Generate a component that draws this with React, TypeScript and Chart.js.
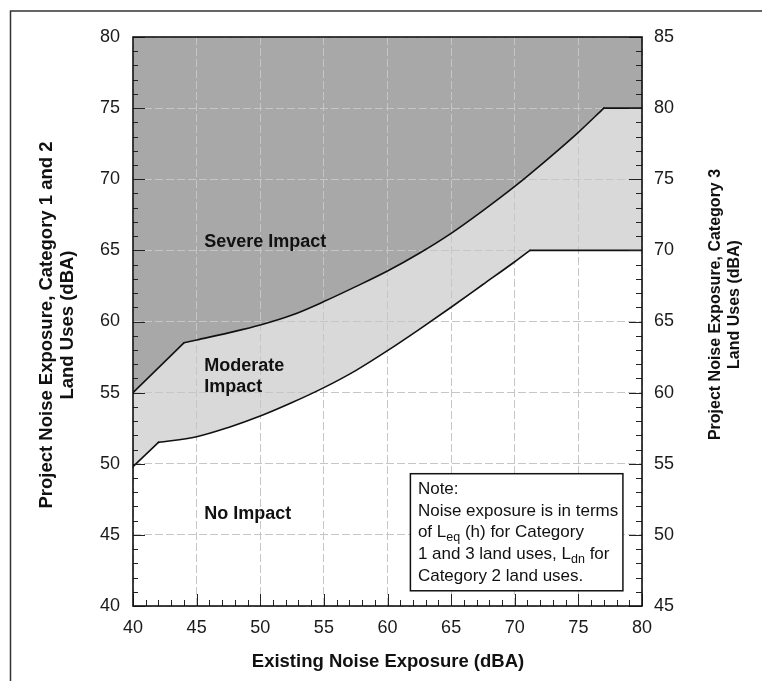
import React, { useEffect, useRef } from "react";
import { Chart, registerables } from "chart.js";

Chart.register(...registerables);

// ---- data ----
const severeX = [40, 44, 45, 47.5, 50, 52.5, 55, 57.5, 60, 62.5, 65, 67.5, 70, 72.5, 75, 77, 80];
const severeY = [55, 58.5, 58.7, 59.2, 59.75, 60.45, 61.4, 62.45, 63.55, 64.8, 66.2, 67.8, 69.5, 71.35, 73.3, 75, 75];
const moderateX = [40, 42, 45, 47.5, 50, 52.5, 55, 57.5, 60, 62.5, 65, 67.5, 70, 71.2, 80];
const moderateY = [49.8, 51.5, 51.9, 52.55, 53.35, 54.3, 55.35, 56.55, 57.95, 59.45, 61.0, 62.6, 64.2, 65, 65];

// indices where each boundary changes from straight to curved to flat
const severeBreaks = [1, 15];
const moderateBreaks = [1, 13];

const xRange = [40, 80];
const leftRange = [40, 80];
const rightRange = [45, 85];
const tickStep = 5;

const xTitle = "Existing Noise Exposure (dBA)";
const leftTitle = ["Project Noise Exposure, Category 1 and 2", "Land Uses (dBA)"];
const rightTitle = ["Project Noise Exposure, Category 3", "Land Uses (dBA)"];

const regionLabels = [
  { text: "Severe Impact", x: 45.6, y: 65.6 },
  { text: "Moderate", x: 45.6, y: 56.9 },
  { text: "Impact", x: 45.6, y: 55.4 },
  { text: "No Impact", x: 45.6, y: 46.5 },
];

const noteBox = { x1: 61.8, x2: 78.5, y1: 49.3, y2: 41.07 };
const noteLines: { t: string; sub?: boolean }[][] = [
  [{ t: "Note:" }],
  [{ t: "Noise exposure is in terms" }],
  [{ t: "of L" }, { t: "eq", sub: true }, { t: " (h) for Category" }],
  [{ t: "1 and 3 land uses, L" }, { t: "dn", sub: true }, { t: " for" }],
  [{ t: "Category 2 land uses." }],
];

const FONT = '"Liberation Sans", Arial, Helvetica, sans-serif';
const DARK = "#a8a8a8";
const LIGHT = "#d9d9d9";
const GRID = "#c6c6c6";
const INK = "#111";

const pts = (xs: number[], ys: number[], a = 0, b = xs.length - 1) =>
  xs.slice(a, b + 1).map((x, i) => ({ x, y: ys[a + i] }));

const decorPlugin = {
  id: "decor",
  afterDatasetsDraw(chart: any) {
    const { ctx, chartArea, scales } = chart;
    const xs = scales.x;
    const ys = scales.y;
    const y2 = scales.y2;
    const { left, right, top, bottom } = chartArea;
    ctx.save();

    // inner tick marks
    ctx.strokeStyle = "#222";
    ctx.lineWidth = 1;
    ctx.beginPath();
    for (let v = xRange[0]; v <= xRange[1]; v++) {
      const px = Math.round(xs.getPixelForValue(v)) + 0.5;
      const len = v % 5 === 0 ? 12 : 6;
      ctx.moveTo(px, bottom);
      ctx.lineTo(px, bottom - len);
    }
    for (let v = leftRange[0]; v <= leftRange[1]; v++) {
      const py = Math.round(ys.getPixelForValue(v)) + 0.5;
      const len = v % 5 === 0 ? 12 : 5;
      ctx.moveTo(left, py);
      ctx.lineTo(left + len, py);
    }
    for (let v = rightRange[0]; v <= rightRange[1]; v++) {
      const py = Math.round(y2.getPixelForValue(v)) + 0.5;
      const len = v % 5 === 0 ? 13 : 6;
      ctx.moveTo(right, py);
      ctx.lineTo(right - len, py);
    }
    ctx.stroke();

    // plot frame
    ctx.strokeStyle = INK;
    ctx.lineWidth = 1.6;
    ctx.strokeRect(left, top, right - left, bottom - top);

    // region labels
    ctx.fillStyle = INK;
    ctx.font = `bold 18px ${FONT}`;
    ctx.textAlign = "left";
    ctx.textBaseline = "middle";
    regionLabels.forEach((l) => {
      ctx.fillText(l.text, xs.getPixelForValue(l.x), ys.getPixelForValue(l.y));
    });

    // note box
    const bx1 = xs.getPixelForValue(noteBox.x1);
    const bx2 = xs.getPixelForValue(noteBox.x2);
    const by1 = ys.getPixelForValue(noteBox.y1);
    const by2 = ys.getPixelForValue(noteBox.y2);
    ctx.fillStyle = "#fff";
    ctx.fillRect(bx1, by1, bx2 - bx1, by2 - by1);
    ctx.strokeStyle = INK;
    ctx.lineWidth = 1.5;
    ctx.strokeRect(bx1, by1, bx2 - bx1, by2 - by1);
    ctx.fillStyle = INK;
    const lineGap = (by2 - by1) / 5.4;
    noteLines.forEach((parts, i) => {
      let cx = bx1 + 7.5;
      const cy = by1 + lineGap * (0.72 + i);
      parts.forEach((p) => {
        if (p.sub) {
          ctx.font = `12.5px ${FONT}`;
          ctx.fillText(p.t, cx, cy + 5);
        } else {
          ctx.font = `17px ${FONT}`;
          ctx.fillText(p.t, cx, cy);
        }
        cx += ctx.measureText(p.t).width;
      });
    });

    // axis titles
    ctx.textAlign = "center";
    ctx.fillStyle = INK;
    ctx.font = `bold 18.5px ${FONT}`;
    ctx.fillText(xTitle, (left + right) / 2 + 0.5, 654);

    const drawVert = (lines: string[], xsPos: number[], cy: number) => {
      lines.forEach((t, i) => {
        ctx.save();
        ctx.translate(xsPos[i], cy);
        ctx.rotate(-Math.PI / 2);
        ctx.fillText(t, 0, 0);
        ctx.restore();
      });
    };
    drawVert(leftTitle, [38.5, 60], 317);
    ctx.font = `bold 16px ${FONT}`;
    drawVert(rightTitle, [707.5, 726.5], 296.5);

    // outer frame
    ctx.strokeStyle = "#333";
    ctx.lineWidth = 1.5;
    ctx.beginPath();
    ctx.moveTo(2.5, chart.height);
    ctx.lineTo(2.5, 3);
    ctx.lineTo(chart.width, 3);
    ctx.stroke();

    ctx.restore();
  },
};

const lineStyle = {
  borderColor: INK,
  borderWidth: 1.6,
  borderCapStyle: "round" as const,
  borderJoinStyle: "round" as const,
  pointRadius: 0,
  fill: false,
  yAxisID: "y",
};

export default function App() {
  const ref = useRef<HTMLCanvasElement | null>(null);

  useEffect(() => {
    const prevOverflow = document.documentElement.style.overflow;
    document.documentElement.style.overflow = "hidden";
    if (!ref.current) return;
    const [sa, sb] = severeBreaks;
    const [ma, mb] = moderateBreaks;
    const chart = new Chart(ref.current, {
      type: "line",
      data: {
        datasets: [
          {
            label: "Severe region",
            data: pts(severeX, severeY),
            borderWidth: 0,
            pointRadius: 0,
            tension: 0,
            fill: "end",
            backgroundColor: DARK,
            yAxisID: "y",
          },
          {
            label: "Moderate region",
            data: pts(moderateX, moderateY),
            borderWidth: 0,
            pointRadius: 0,
            tension: 0,
            fill: "end",
            backgroundColor: LIGHT,
            yAxisID: "y",
          },
          { label: "s1", data: pts(severeX, severeY, 0, sa), tension: 0, ...lineStyle },
          { label: "s2", data: pts(severeX, severeY, sa, sb), cubicInterpolationMode: "monotone", ...lineStyle },
          { label: "s3", data: pts(severeX, severeY, sb), tension: 0, ...lineStyle },
          { label: "m1", data: pts(moderateX, moderateY, 0, ma), tension: 0, ...lineStyle },
          { label: "m2", data: pts(moderateX, moderateY, ma, mb), cubicInterpolationMode: "monotone", ...lineStyle },
          { label: "m3", data: pts(moderateX, moderateY, mb), tension: 0, ...lineStyle },
        ] as any,
      },
      options: {
        animation: false,
        responsive: true,
        maintainAspectRatio: false,
        layout: { padding: { top: 29, left: 0, right: 0, bottom: 0 } },
        plugins: {
          legend: { display: false },
          tooltip: { enabled: false },
          filler: { drawTime: "beforeDraw" } as any,
        },
        scales: {
          x: {
            type: "linear",
            position: "bottom",
            min: xRange[0],
            max: xRange[1],
            ticks: {
              stepSize: tickStep,
              padding: 11,
              color: "#1a1a1a",
              font: { family: FONT, size: 18 },
            },
            grid: { color: GRID, lineWidth: 1, drawTicks: false },
            border: { display: false, dash: [8, 3] },
            afterFit: (s: any) => {
              s.height = 75;
            },
          },
          y: {
            type: "linear",
            position: "left",
            min: leftRange[0],
            max: leftRange[1],
            ticks: {
              stepSize: tickStep,
              padding: 13,
              color: "#1a1a1a",
              font: { family: FONT, size: 18 },
            },
            grid: { color: GRID, lineWidth: 1, drawTicks: false },
            border: { display: false, dash: [8, 3] },
            afterFit: (s: any) => {
              s.width = 125;
            },
          },
          y2: {
            type: "linear",
            position: "right",
            min: rightRange[0],
            max: rightRange[1],
            ticks: {
              stepSize: tickStep,
              padding: 12,
              color: "#1a1a1a",
              font: { family: FONT, size: 18 },
            },
            grid: { drawOnChartArea: false, drawTicks: false },
            border: { display: false },
            afterFit: (s: any) => {
              s.width = 128;
            },
          },
        },
      },
      plugins: [decorPlugin],
    });
    return () => {
      chart.destroy();
      document.documentElement.style.overflow = prevOverflow;
    };
  }, []);

  return (
    <div style={{ width: 762, height: 673, position: "relative" }}>
      <canvas ref={ref} />
    </div>
  );
}
